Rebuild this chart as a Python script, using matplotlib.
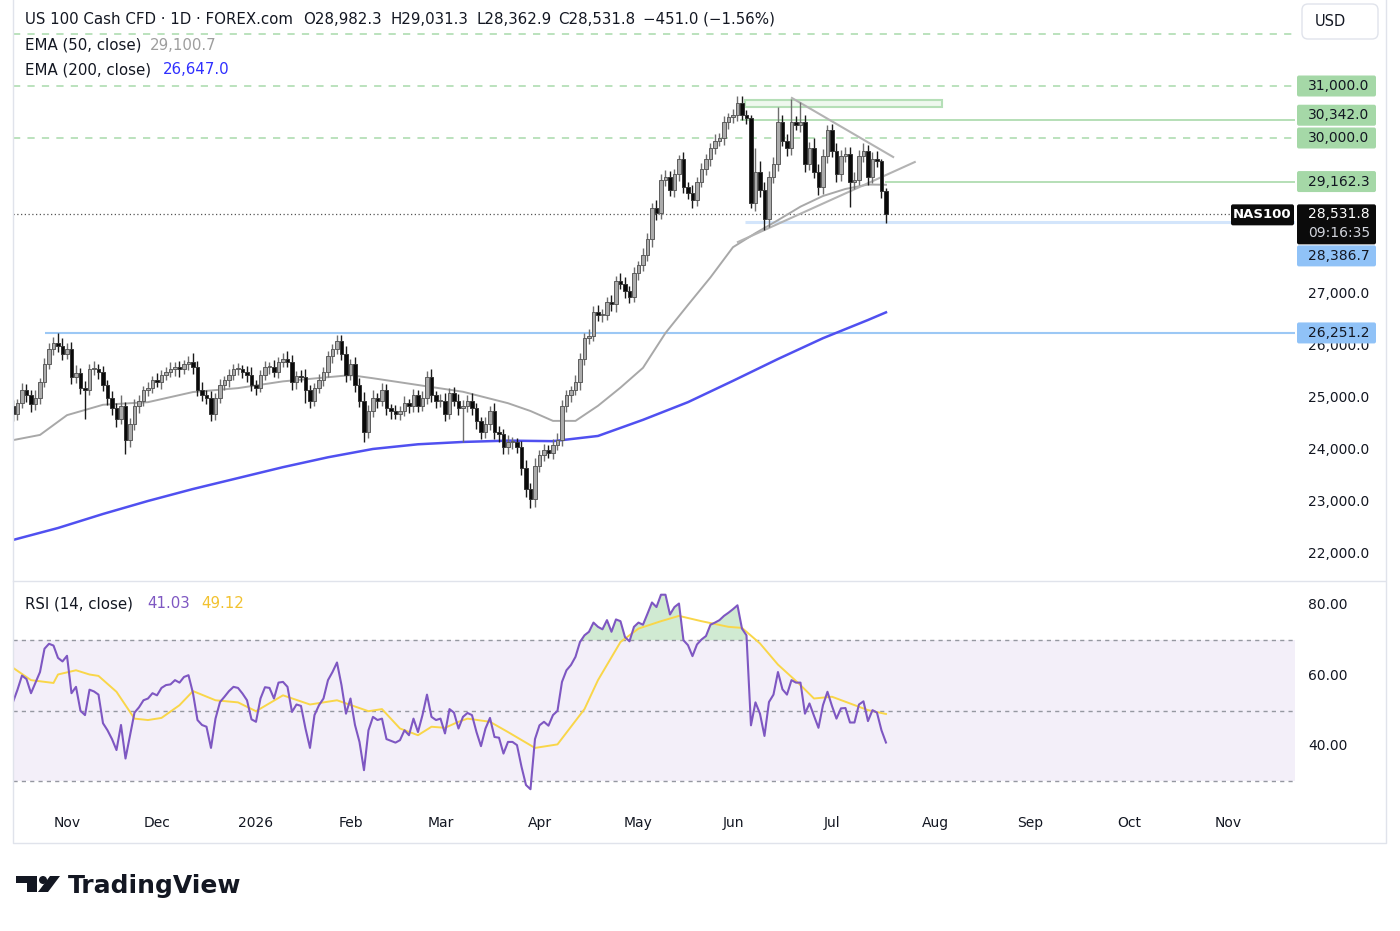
"""
US 100 Cash CFD daily chart with EMA 50/200 and RSI, TradingView style
"""

import matplotlib.pyplot as plt
import matplotlib.transforms as mtransforms
from matplotlib.patches import Rectangle, FancyBboxPatch, Polygon, Circle
import numpy as np
import pandas as pd

plt.rcParams['font.family'] = ['DejaVu Sans']

# ---- data ----
first_open = 24850
closes = [
    24700, 24900, 25150, 25050, 24880, 25000, 25300, 25650, 25950, 26050,
    26000, 25850, 25950, 25400, 25480, 25200, 25150, 25550, 25550, 25500,
    25250, 25000, 24800, 24600, 24850, 24200, 24500, 24850, 24950, 25150,
    25200, 25350, 25300, 25450, 25500, 25550, 25600, 25550, 25650, 25700,
    25600, 25150, 25050, 25000, 24700, 25000, 25250, 25350, 25450, 25550,
    25550, 25500, 25450, 25250, 25200, 25450, 25600, 25600, 25500, 25700,
    25750, 25700, 25300, 25420, 25400, 25150, 24950, 25200, 25350, 25500,
    25800, 25950, 26100, 25850, 25450, 25650, 25250, 24950, 24350, 24750,
    25000, 24950, 25150, 24800, 24750, 24700, 24750, 24900, 24850, 25050,
    24850, 25000, 25400, 25050, 24950, 24950, 24700, 25100, 24950, 24800,
    24850, 24950, 24800, 24550, 24350, 24500, 24750, 24350, 24300, 24050,
    24150, 24150, 24050, 23650, 23250, 23050, 23700, 23900, 24000, 23950,
    24100, 24200, 24850, 25050, 25150, 25300, 25750, 26150, 26200, 26650,
    26600, 26600, 26850, 26800, 27250, 27200, 27050, 26950, 27400, 27550,
    27750, 28050, 28650, 28550, 29200, 29250, 29000, 29300, 29600, 29050,
    28950, 28800, 29150, 29400, 29600, 29800, 29950, 30000, 30300, 30400,
    30450, 30680, 30450, 30380, 28750, 29350, 29000, 28450, 29250, 29500,
    30300, 29950, 29800, 30300, 30250, 30300, 29500, 29800, 29350, 29050,
    29650, 30150, 29750, 29300, 29650, 29700, 29150, 29200, 29650, 29750,
    29250, 29600, 29550, 28982.3, 28531.8,
]
wick_up = [
    120, 90, 140, 110, 100, 150, 80, 120, 100, 130,
    200, 150, 110, 120, 150, 90, 130, 110, 160, 100,
    120, 90, 140, 100, 200, 80, 110, 130, 100, 90,
    110, 80, 130, 90, 100, 140, 90, 120, 80, 100,
    160, 110, 150, 100, 130, 90, 120, 80, 110, 100,
    130, 90, 110, 150, 100, 80, 120, 100, 140, 90,
    120, 150, 130, 90, 110, 160, 100, 90, 120, 100,
    110, 90, 110, 120, 150, 100, 130, 140, 160, 110,
    150, 100, 130, 120, 90, 110, 100, 140, 90, 120,
    100, 130, 110, 150, 90, 120, 140, 100, 110, 130,
    120, 100, 140, 110, 90, 130, 100, 150, 120, 110,
    130, 100, 90, 120, 150, 110, 140, 100, 120, 90,
    110, 130, 120, 100, 90, 140, 110, 100, 130, 120,
    140, 110, 100, 130, 90, 150, 120, 100, 110, 90,
    130, 120, 100, 150, 110, 140, 120, 100, 80, 130,
    110, 140, 100, 120, 90, 110, 130, 100, 120, 90,
    110, 120, 130, 80, 60, 450, 200, 150, 120, 140,
    300, 150, 120, 450, 130, 400, 150, 120, 200, 150,
    140, 100, 120, 150, 110, 130, 120, 140, 110, 150,
    120, 130, 150, 50, 49,
]
wick_dn = [
    150, 120, 100, 130, 140, 110, 120, 90, 100, 130,
    120, 110, 100, 140, 120, 130, 550, 100, 110, 140,
    110, 130, 120, 150, 100, 280, 150, 110, 130, 100,
    120, 100, 90, 130, 110, 100, 120, 140, 90, 110,
    130, 120, 100, 110, 150, 120, 100, 90, 130, 110,
    100, 120, 140, 110, 150, 90, 110, 130, 100, 120,
    110, 100, 140, 120, 90, 250, 150, 110, 100, 120,
    100, 130, 110, 120, 140, 110, 130, 120, 200, 120,
    110, 140, 100, 130, 150, 110, 120, 100, 130, 110,
    120, 100, 110, 130, 140, 120, 150, 110, 100, 130,
    650, 110, 120, 140, 130, 110, 120, 140, 150, 130,
    120, 140, 110, 130, 150, 170, 140, 120, 110, 100,
    120, 100, 130, 110, 120, 100, 140, 110, 120, 100,
    110, 130, 100, 120, 140, 110, 130, 120, 100, 140,
    110, 120, 150, 130, 100, 120, 110, 140, 120, 100,
    130, 140, 110, 100, 120, 130, 100, 110, 140, 120,
    110, 130, 100, 120, 100, 150, 130, 220, 160, 120,
    130, 110, 140, 120, 100, 130, 150, 120, 110, 140,
    120, 130, 110, 150, 120, 110, 480, 130, 110, 120,
    150, 120, 110, 130, 169,
]

ema50_idx = [0, 6, 12, 20, 30, 40, 50, 60, 70, 75, 80, 90, 100, 110, 115, 120,
             125, 130, 135, 140, 145, 150, 155, 160, 165, 170, 175, 180, 185, 190, 194]
ema50 = [24190, 24290, 24670, 24870, 24920, 25115, 25190, 25320, 25400, 25440,
         25380, 25250, 25120, 24900, 24750, 24560, 24560, 24850, 25200, 25580,
         26250, 26790, 27320, 27900, 28170, 28420, 28680, 28885, 29020, 29105, 29100.7]
ema200_idx = [0, 10, 20, 30, 40, 50, 60, 70, 80, 90, 100, 110, 120, 130, 140,
              150, 160, 170, 180, 190, 194]
ema200 = [22270, 22500, 22770, 23020, 23250, 23460, 23670, 23860, 24020, 24110,
          24155, 24180, 24170, 24270, 24580, 24920, 25330, 25750, 26150, 26500, 26647]

rsi = [
    52.5, 56, 60, 59, 55, 58, 61, 67.6, 69, 68.5,
    65, 64, 65.6, 55, 56.8, 50, 48.8, 56, 55.5, 54.6,
    46.5, 44.5, 42, 38.9, 46, 36.5, 43, 49.5, 51, 53,
    53.5, 55, 54.4, 56.5, 57.3, 57.5, 58.7, 58, 59.6, 60.1,
    55, 47.4, 46, 45.5, 39.5, 47.8, 52.5, 54, 55.6, 56.8,
    56.5, 54.9, 53, 47.6, 46.9, 53.5, 56.7, 56.5, 53.5, 58,
    58.2, 56.8, 49.7, 51.8, 51.4, 45, 39.5, 48.8, 51.6, 53.5,
    58.7, 61, 63.7, 57.3, 49.2, 53.5, 46, 41.2, 33.2, 44.5,
    48.3, 47.4, 47.8, 42, 41.5, 41, 41.7, 44.5, 43.1, 47.8,
    44, 48.8, 54.6, 48.3, 47.4, 47.8, 43.6, 50.5, 49.5, 45,
    48.3, 49.4, 48.8, 44, 40, 45, 48, 42.6, 42.4, 37.9,
    41.2, 41.2, 40.3, 34.2, 29, 27.8, 42, 45.9, 46.9, 45.8,
    48.8, 50, 58.2, 61.5, 63, 65.3, 69.5, 71.4, 72.4, 75,
    73.8, 73.1, 75.7, 72.4, 75.9, 75.4, 70.9, 69.7, 73.8, 75,
    74.4, 77.5, 80.7, 79.4, 82.9, 82.9, 77.3, 79.4, 80.4, 70,
    68.6, 65.5, 68.8, 70.2, 71.2, 74.4, 75, 75.7, 76.9, 77.8,
    78.8, 79.9, 73.3, 71.4, 45.9, 52.4, 49.2, 42.9, 52.5, 54.6,
    61, 56.1, 54.6, 58.7, 58, 58, 49.2, 52.1, 48.6, 45.2,
    51.6, 55.4, 51.4, 47.8, 50.7, 50.8, 46.7, 46.7, 51.8, 52.7,
    47.1, 50.2, 49.5, 44.5, 41.03,
]
rsi_ma_idx = [0, 4, 9, 10, 14, 17, 19, 23, 27, 30, 33, 37, 40, 45, 50, 54, 60, 66,
              72, 79, 82, 86, 90, 93, 96, 99, 101, 106, 110, 116, 121, 127, 130,
              135, 139, 144, 148, 153, 159, 162, 166, 170, 175, 178, 182, 186, 190, 194]
rsi_ma = [62.2, 58.7, 57.9, 60.3, 61.5, 60.3, 59.9, 55.4, 47.8, 47.4, 48.0, 51.6,
          55.6, 53.0, 52.4, 49.9, 54.4, 51.8, 53.0, 49.9, 50.5, 45.0, 43.1, 45.5,
          45.2, 46.9, 47.8, 46.9, 44.0, 39.5, 40.5, 50.5, 58.7, 69.5, 73.3, 75.4,
          76.9, 75.4, 73.8, 73.5, 69.1, 63.1, 57.3, 53.5, 54.0, 52.1, 50.2, 49.12]

# drawn levels / tools (bar index, price)
dashed_levels = [32000, 31000, 30000]
solid_levels = [(161.6, 30342.0), (193.8, 29162.3)]
support_26251 = (7.1, 26251.2)
support_28386 = (162.7, 28386.7)
box_zone = (162.7, 206.4, 30600, 30730)
trend_down = ([173.1, 195.6], [30770, 29635])
trend_up = ([161.1, 200.4], [28000, 29538])
last_price = 28531.8
# axis prices left visible (others sit under the tags)
axis_prices = [22000, 23000, 24000, 25000, 26000, 27000]

# trading days: weekdays without Christmas / New Year
dates = pd.bdate_range('2025-10-16', '2026-11-30')
dates = dates[~dates.isin(pd.to_datetime(['2025-12-25', '2026-01-01']))]

W, H = 1400, 931
fig = plt.figure(figsize=(14, 9.31), dpi=100)
fig.patch.set_facecolor('white')

def frac(x0, y0, x1, y1):
    return [x0 / W, 1 - y1 / H, (x1 - x0) / W, (y1 - y0) / H]

ax = fig.add_axes(frac(13, 0, 1295, 580))
axr = fig.add_axes(frac(13, 582, 1295, 803), sharex=ax)
ov = fig.add_axes([0, 0, 1, 1], zorder=10)
ov.set_xlim(0, W)
ov.set_ylim(H, 0)
ov.axis('off')
ov.patch.set_alpha(0)

for a in (ax, axr):
    a.set_facecolor('white')
    for s in a.spines.values():
        s.set_visible(False)
    a.tick_params(left=False, right=False, labelleft=False, bottom=False, labelbottom=False)

ax.set_xlim(0, 284.9)
ax.set_ylim(21500, 32654)
axr.set_ylim(23.9, 86.5)

# ---- candles ----
closes = np.array(closes)
opens = np.array([first_open] + list(closes[:-1]))
x = np.arange(len(closes))
top = np.maximum(opens, closes)
bot = np.minimum(opens, closes)
highs = top + np.array(wick_up)
lows = bot - np.array(wick_dn)
up = closes >= opens

ax.vlines(x[up], lows[up], highs[up], color='#6e6e6e', lw=1.0, zorder=3)
ax.vlines(x[~up], lows[~up], highs[~up], color='#1a1a1a', lw=1.0, zorder=3)
ax.bar(x[up], np.maximum(top[up] - bot[up], 18), bottom=bot[up], width=0.7,
       color='#ababab', edgecolor='#5c5c5c', linewidth=0.7, zorder=4)
ax.bar(x[~up], np.maximum(top[~up] - bot[~up], 18), bottom=bot[~up], width=0.7,
       color='#0a0a0a', edgecolor='#333333', linewidth=0.7, zorder=4)

# ---- EMAs ----
ax.plot(ema50_idx, ema50, color='#a8a8a8', lw=1.4, zorder=2)
ax.plot(ema200_idx, ema200, color='#5050f0', lw=1.8, zorder=2)

# ---- levels ----
xr = 284.9
for lv in dashed_levels:
    ax.hlines(lv, 0, xr, color='#b5dfb7', lw=1.3, linestyles=(0, (4, 4)), zorder=1)
for x0, lv in solid_levels:
    ax.hlines(lv, x0, xr, color='#b5dfb7', lw=1.4, zorder=1)
ax.hlines(support_26251[1], support_26251[0], xr, color='#9cc8f5', lw=1.5, zorder=1)
ax.hlines(support_28386[1], support_28386[0], xr, color='#d3e5fb', lw=2.2, zorder=1)
ax.add_patch(Rectangle((box_zone[0], box_zone[2]), box_zone[1] - box_zone[0],
                       box_zone[3] - box_zone[2], fc='#eef8ee', ec='#b5dfb7', lw=1.5, zorder=1))
ax.plot(*trend_down, color='#b3b3b3', lw=1.5, zorder=2)
ax.plot(*trend_up, color='#b3b3b3', lw=1.5, zorder=2)
ax.hlines(last_price, 0, (1231 - 13) / 4.5, color='#555555', lw=0.9,
          linestyles=(0, (1, 2)), zorder=1)

# ---- RSI ----
axr.axhspan(30, 70, color='#7e57c2', alpha=0.09, lw=0)
for lv in (70, 50, 30):
    axr.axhline(lv, color='#9598a1', lw=1, ls=(0, (3, 3)))
rsi = np.array(rsi)
axr.fill_between(x, 70, rsi, where=rsi >= 70, interpolate=True, color='#66bb6a',
                 alpha=0.3, lw=0)
axr.plot(rsi_ma_idx, rsi_ma, color='#f9d649', lw=1.4)
axr.plot(x, rsi, color='#7e57c2', lw=1.5)

# month ticks
month_pos, month_lab = [], []
prev = None
for i, d in enumerate(dates):
    if d.month != prev:
        if i > 0:
            month_pos.append(i)
            month_lab.append('2026' if d.month == 1 else d.strftime('%b'))
        prev = d.month
tb = mtransforms.blended_transform_factory(axr.transData, axr.transAxes)
for p, lab in zip(month_pos, month_lab):
    if p < 284:
        axr.text(p, -0.09, lab, transform=tb, ha='center', va='center',
                 fontsize=10, color='#131722')

# ---- right price scale ----
def py(p):
    return H - ax.transData.transform((0, p))[1]

def ry(v):
    return H - axr.transData.transform((0, v))[1]

TXT = '#131722'
for p in axis_prices:
    ov.text(1308, py(p), f'{p:,.1f}', ha='left', va='center', fontsize=10, color=TXT)
for v in (80, 60, 40):
    ov.text(1308, ry(v), f'{v:.2f}', ha='left', va='center', fontsize=10, color=TXT)

def tag(yc, text, fc, h=21, fg='#131722'):
    ov.add_patch(FancyBboxPatch((1297, yc - h / 2), 79, h, boxstyle='round,pad=0,rounding_size=2',
                                fc=fc, ec='none', zorder=11))
    ov.text(1308, yc, text, ha='left', va='center', fontsize=10, color=fg, zorder=12)

tag(py(31000), '31,000.0', '#a5d8a7')
tag(py(30342) - 5, '30,342.0', '#a5d8a7')
tag(py(30000), '30,000.0', '#a5d8a7')
tag(py(29162.3), '29,162.3', '#a5d8a7')
tag(py(28386.7) + 34, '28,386.7', '#90c2f7')
tag(py(26251.2), '26,251.2', '#90c2f7')

yb = py(last_price)
ov.add_patch(FancyBboxPatch((1297, yb - 10), 79, 40, boxstyle='round,pad=0,rounding_size=2',
                            fc='#0b0b0b', ec='none', zorder=11))
ov.text(1308, yb, f'{last_price:,.1f}', ha='left', va='center', fontsize=10, color='white', zorder=12)
ov.text(1308, yb + 19, '09:16:35', ha='left', va='center', fontsize=10, color='#d1d4dc', zorder=12)
ov.add_patch(FancyBboxPatch((1231, yb - 10), 63, 21, boxstyle='round,pad=0,rounding_size=2',
                            fc='#0b0b0b', ec='none', zorder=11))
ov.text(1262.5, yb, 'NAS100', ha='center', va='center', fontsize=9.5, color='white',
        fontweight='bold', zorder=12)

ov.add_patch(FancyBboxPatch((1302, 4), 76, 35, boxstyle='round,pad=0,rounding_size=6',
                            fc='white', ec='#e0e3eb', lw=1, zorder=11))
ov.text(1330, 21, 'USD', ha='center', va='center', fontsize=10.5, color=TXT, zorder=12)

# ---- legends ----
FS = 10.8
hdr = [(25, 'US 100 Cash CFD · 1D · FOREX.com'), (303, 'O28,982.3'), (390, 'H29,031.3'),
       (476, 'L28,362.9'), (558, 'C28,531.8'), (643, '−451.0 (−1.56%)')]
for hx, t in hdr:
    ov.text(hx, 19, t, ha='left', va='center', fontsize=FS, color=TXT)
ov.text(25, 45, 'EMA (50, close)', ha='left', va='center', fontsize=FS, color=TXT)
ov.text(150, 45, '29,100.7', ha='left', va='center', fontsize=FS, color='#9e9e9e')
ov.text(25, 70, 'EMA (200, close)', ha='left', va='center', fontsize=FS, color=TXT)
ov.text(163, 70, '26,647.0', ha='left', va='center', fontsize=FS, color='#2f2fff')
ov.text(25, 604, 'RSI (14, close)', ha='left', va='center', fontsize=FS, color=TXT)
ov.text(147, 604, '41.03', ha='left', va='center', fontsize=FS, color='#7e57c2')
ov.text(201, 604, '49.12', ha='left', va='center', fontsize=FS, color='#f2c230')

# ---- frame ----
ov.plot([12.5, 12.5, 1385.5, 1385.5], [0, 843, 843, 0], color='#e0e3eb', lw=1)
ov.plot([13, 1385], [581, 581], color='#e0e3eb', lw=1)

# ---- TradingView logo ----
ov.add_patch(Polygon([(16, 876), (37, 876), (37, 892), (27, 892), (27, 883), (16, 883)],
                     closed=True, fc='#131722', ec='none'))
ov.add_patch(Circle((43, 880), 4, fc='#131722', ec='none'))
ov.add_patch(Polygon([(50, 876), (60, 876), (48, 892), (38, 892)], closed=True,
                     fc='#131722', ec='none'))
ov.text(68, 886, 'TradingView', ha='left', va='center', fontsize=18, fontweight='bold',
        color='#131722')

fig.savefig('out.png', dpi=100)
